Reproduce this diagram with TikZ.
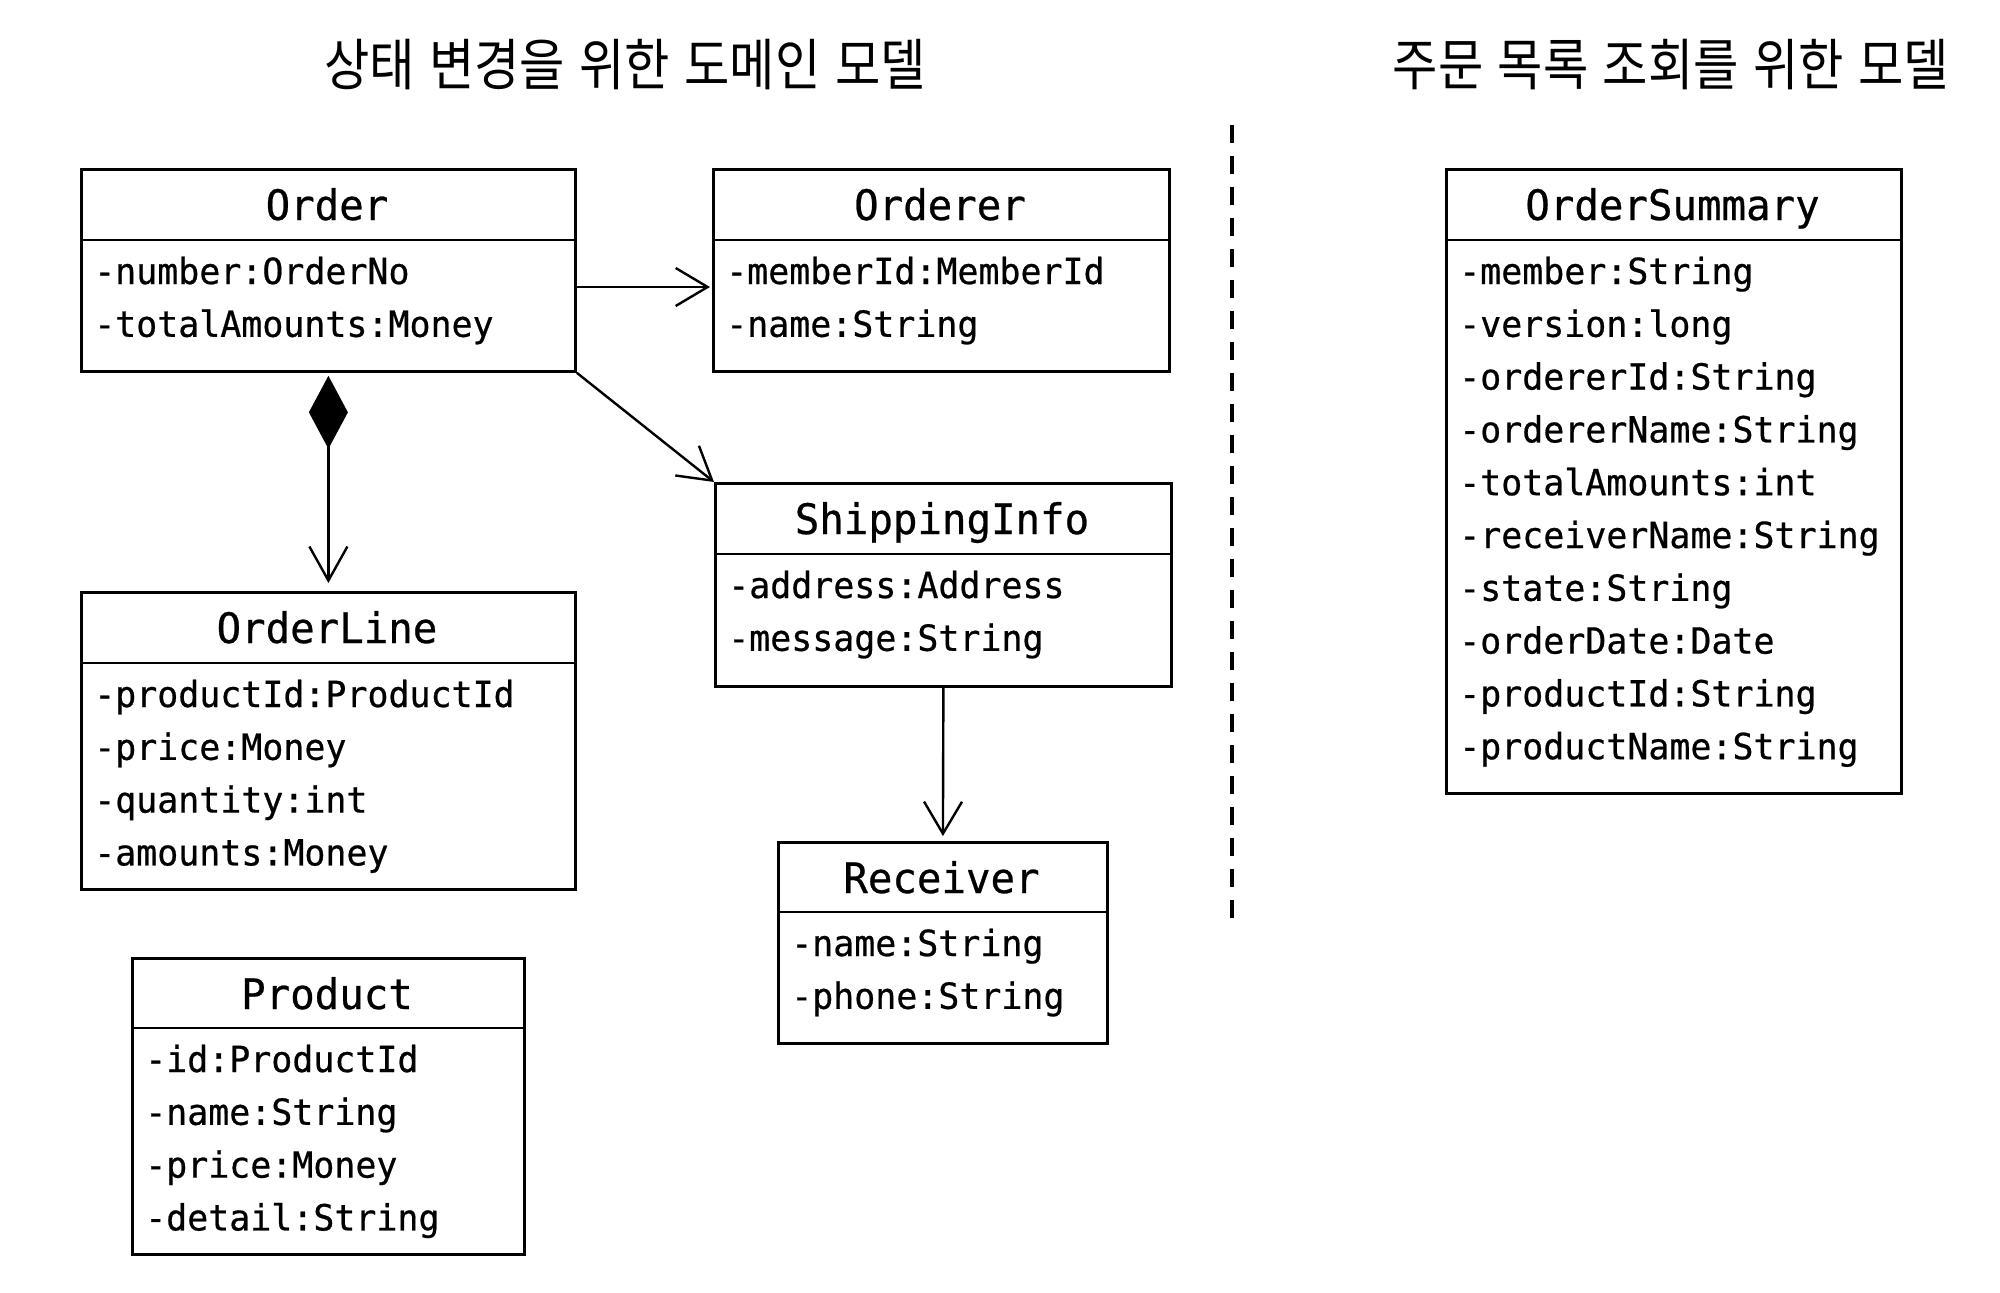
\documentclass[tikz,border=0pt]{standalone}
\usepackage{fontspec}
\usetikzlibrary{arrows.meta,calc}
\newfontfamily\monofnt[FakeStretch=0.97,FakeBold=0.6]{DejaVu Sans Mono}
\newfontfamily\krfnt[FakeStretch=0.88,WordSpace=1.3]{Noto Sans CJK KR}

\tikzset{
  boxline/.style={line width=2.8pt},
  classbox/.style={draw, line width=2.8pt, inner sep=0pt, anchor=north west},
  hdrtext/.style={font=\monofnt\fontsize{42}{48}\selectfont, anchor=base, inner sep=0pt},
  attrtext/.style={font=\monofnt\fontsize{36}{40}\selectfont, anchor=base west, inner sep=0pt},
  titletext/.style={font=\krfnt\fontsize{56}{64}\selectfont, anchor=base, inner sep=0pt},
  conn/.style={line width=2.4pt},
  assoc/.style={conn, -{Straight Barb[length=32pt,width=38pt]}},
  divider/.style={line width=4.5pt, dash pattern=on 18pt off 13pt}
}

% name x1 y1 x2 y2 hdr title attrs
\newcommand\umlbox[8]{%
  \pgfmathsetmacro\bw{#4-#2}\pgfmathsetmacro\bh{#5-#3}\pgfmathsetmacro\bcx{(#2+#4)/2}%
  \node[classbox, minimum width=\bw pt, minimum height=\bh pt] (#1) at (#2,#3) {};
  \draw[boxline] (#2,#6) -- (#4,#6);
  \node[hdrtext] (#1-t) at (\bcx,#3+52) {#7};
  \foreach \attr [count=\i] in {#8} {
    \node[attrtext] (#1-a\i) at (#2+14,{#6+44+(\i-1)*52.8}) {\attr};
  }
}

\begin{document}
\begin{tikzpicture}[x=1pt,y=-1pt]
\fill[white] (0,0) rectangle (2000,1293);
\useasboundingbox (0,0) rectangle (2000,1293);

\node[titletext] (t1) at (625,85) {상태 변경을 위한 도메인 모델};
\node[titletext] (t2) at (1671,85) {주문 목록 조회를 위한 모델};

\umlbox{order}{80}{168}{574}{370}{240}{Order}{-number:OrderNo,-totalAmounts:Money}
\umlbox{orderer}{712}{168}{1168}{370}{240}{Orderer}{-memberId:MemberId,-name:String}
\umlbox{ship}{714}{482}{1170}{685}{554}{ShippingInfo}{-address:Address,-message:String}
\umlbox{orderline}{80}{591}{574}{888}{663}{OrderLine}{-productId:ProductId,-price:Money,-quantity:int,-amounts:Money}
\umlbox{product}{131}{957}{523}{1253}{1028}{Product}{-id:ProductId,-name:String,-price:Money,-detail:String}
\umlbox{recv}{777}{841}{1106}{1042}{912}{Receiver}{-name:String,-phone:String}
\umlbox{summary}{1445}{168}{1900}{792}{240}{OrderSummary}{-member:String,-version:long,-ordererId:String,-ordererName:String,-totalAmounts:int,-receiverName:String,-state:String,-orderDate:Date,-productId:String,-productName:String}

\coordinate (d1) at (1232,125);
\coordinate (d2) at (1232,918);
\draw[divider] (d1) -- (d2);

\draw[assoc, shorten >=2pt] ([yshift=-119pt]order.north east) -- ([yshift=-119pt]orderer.north west);
\draw[assoc] (order.south east) -- (ship.north west);
\draw[conn, {Diamond[length=73pt,width=39pt]}-{Straight Barb[length=34pt,width=38pt]}, shorten <=3pt, shorten >=8pt] (order.south) -- (orderline.north);
\draw[assoc, shorten >=5pt] (ship.south) -- (recv.north);
\end{tikzpicture}
\end{document}
